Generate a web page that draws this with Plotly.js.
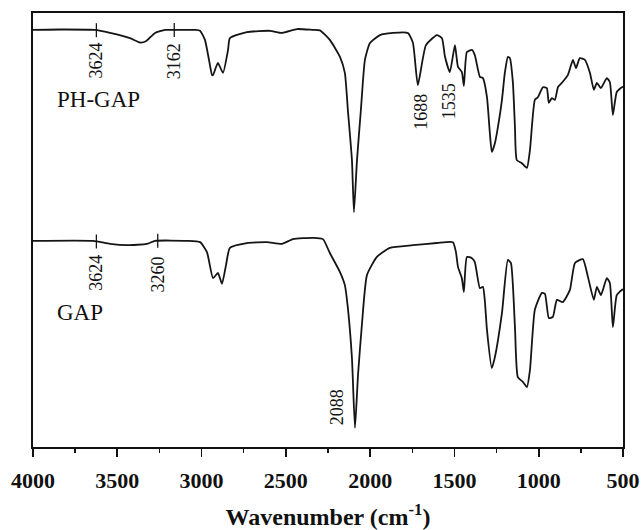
<!DOCTYPE html>
<html>
<head>
<meta charset="utf-8">
<script src="https://cdn.plot.ly/plotly-3.0.1.min.js"></script>
<style>html,body{margin:0;padding:0;background:#fff;}#chart{width:642px;height:530px;}</style>
</head>
<body>
<div id="chart"></div>
<script>
// Wavenumber (cm-1) and transmittance (a.u.)
const phWavenumber = [4000,3840,3632,3543,3425,3365,3330,3276,3217,3176,3039,3009,2980,2956,2938,2932,2903,2873,2843,2832,2731,2594,2523,2434,2339,2298,2239,2179,2150,2132,2108,2096,2078,2055,2031,2001,1942,1865,1776,1746,1717,1669,1604,1574,1556,1527,1497,1479,1456,1444,1426,1396,1379,1349,1331,1307,1290,1278,1260,1242,1218,1201,1183,1171,1153,1141,1130,1100,1070,1052,1023,1005,975,952,940,922,904,886,863,827,797,779,756,726,696,673,655,631,596,578,560,537,507,500];
const phTransmittance = [96.1,96.2,96.1,95.4,94.2,93.2,93.5,95.4,96.1,96.1,96.1,95.9,93.8,89.2,85.7,85.7,88.5,86.2,91.5,94.2,95.6,95.9,95.4,96.3,96.1,96.0,93.8,89.9,86.2,77.6,66.1,54.1,66.1,77.6,89.2,93.1,94.9,95.4,95.4,93.1,83.4,92.6,94.9,94.2,89.9,86.4,92.6,87.6,86.4,83.2,91.0,91.5,90.3,85.3,85.0,80.6,72.4,68.0,70.0,73.7,80.0,86.2,89.9,89.6,83.9,73.7,66.1,65.4,64.3,68.4,80.0,80.6,82.9,82.7,79.3,80.4,80.0,82.9,83.9,85.7,89.2,87.3,89.6,89.2,86.2,82.3,83.9,82.7,85.0,84.1,76.5,81.8,82.9,83.0];

const gapWavenumber = [4000,3644,3543,3442,3324,3276,3087,3009,2968,2932,2903,2879,2855,2832,2731,2612,2523,2458,2339,2280,2239,2179,2150,2132,2108,2090,2072,2049,2019,1960,1883,1746,1604,1509,1491,1479,1456,1444,1426,1396,1379,1349,1331,1319,1307,1278,1260,1218,1183,1165,1141,1124,1094,1070,1052,1023,981,963,940,916,892,857,815,785,738,708,673,655,631,596,578,560,537,507,500];
const gapTransmittance = [47.5,47.5,46.8,46.5,46.8,47.5,47.5,47.2,44.9,38.9,40.1,37.6,41.9,45.9,47.0,47.2,46.8,47.9,48.2,47.9,44.7,40.3,37.3,32.0,20.5,4.4,16.6,28.1,39.6,43.8,45.9,46.5,47.0,47.2,44.9,41.5,38.9,35.7,43.8,43.5,42.6,36.6,36.9,33.4,27.0,18.2,20.7,30.9,43.1,42.4,27.6,16.1,15.0,13.8,17.7,31.6,35.5,35.3,29.7,30.0,33.9,33.4,36.2,42.4,43.3,39.2,33.9,36.9,35.0,38.9,37.8,27.6,35.0,36.2,36.3];

const seriesNames = ["PH-GAP", "GAP"];
const phPeakLabels = [3624, 3162, 1688, 1535];
const phPeakTicked = [true, true, false, false];
const gapPeakLabels = [3624, 3260, 2088];
const gapPeakTicked = [true, true, false];
const xTickValues = [4000, 3500, 3000, 2500, 2000, 1500, 1000, 500];

function interp(xs, ys, x) {
  for (let i = 0; i < xs.length - 1; i++) {
    const a = xs[i], b = xs[i + 1];
    if ((x <= a && x >= b) || (x >= a && x <= b)) {
      const t = (x - a) / (b - a);
      return ys[i] + t * (ys[i + 1] - ys[i]);
    }
  }
  return ys[ys.length - 1];
}

const lineStyle = {color: '#151515', width: 1.8, shape: 'spline', smoothing: 0.5};
const traces = [
  {x: phWavenumber, y: phTransmittance, type: 'scatter', mode: 'lines', name: seriesNames[0], line: lineStyle, hoverinfo: 'x+y'},
  {x: gapWavenumber, y: gapTransmittance, type: 'scatter', mode: 'lines', name: seriesNames[1], line: lineStyle, hoverinfo: 'x+y'}
];

const labelFont = {family: 'Liberation Serif, Times New Roman, serif', size: 18, color: '#111'};
// pixel offsets of the rotated labels relative to the curve (styling only)
const phShift = [[0, -30], [0, -31], [-2, -51], [0, -34]];
const gapShift = [[0, -31], [0, -34], [-18, 15]];

const annotations = [];
const shapes = [];
function addPeaks(labels, ticked, shifts, xs, ys) {
  labels.forEach((wn, i) => {
    const yv = interp(xs, ys, wn);
    annotations.push({
      x: wn, y: yv, xref: 'x', yref: 'y', text: String(wn), showarrow: false,
      textangle: -90, font: labelFont, xanchor: 'center', yanchor: 'middle',
      xshift: shifts[i][0], yshift: shifts[i][1]
    });
    if (ticked[i]) {
      shapes.push({type: 'line', xref: 'x', yref: 'y', ysizemode: 'pixel', yanchor: yv,
        x0: wn, x1: wn, y0: -7, y1: 7, line: {color: '#151515', width: 1.3}});
    }
  });
}
addPeaks(phPeakLabels, phPeakTicked, phShift, phWavenumber, phTransmittance);
addPeaks(gapPeakLabels, gapPeakTicked, gapShift, gapWavenumber, gapTransmittance);

const nameFont = {family: 'Liberation Serif, Times New Roman, serif', size: 23, color: '#111'};
annotations.push({x: 3870, y: 80.0, xref: 'x', yref: 'y', text: seriesNames[0], showarrow: false, xanchor: 'left', yanchor: 'middle', font: nameFont});
annotations.push({x: 3870, y: 31.1, xref: 'x', yref: 'y', text: seriesNames[1], showarrow: false, xanchor: 'left', yanchor: 'middle', font: nameFont});

const layout = {
  width: 642, height: 530,
  margin: {l: 33, r: 19, t: 13, b: 83},
  paper_bgcolor: '#fff', plot_bgcolor: '#fff',
  showlegend: false,
  xaxis: {
    range: [4000, 500], tickvals: xTickValues, ticktext: xTickValues.map(String),
    ticks: 'outside', ticklen: 8, tickwidth: 1.8, tickcolor: '#111',
    ticklabelstandoff: 5,
    minor: {dtick: 250, ticks: 'outside', ticklen: 4, tickwidth: 1.5, tickcolor: '#111', tick0: 500},
    showline: true, linecolor: '#111', linewidth: 2, mirror: true,
    showgrid: false, zeroline: false,
    tickfont: {family: 'Liberation Serif, Times New Roman, serif', size: 22, color: '#111', weight: 'bold'},
    title: {text: '<b>Wavenumber (cm<sup>-1</sup>)</b>', font: {family: 'Liberation Serif, Times New Roman, serif', size: 24, color: '#111'}}
  },
  yaxis: {
    range: [0, 100], showticklabels: false, ticks: '', showgrid: false, zeroline: false,
    showline: true, linecolor: '#111', linewidth: 2, mirror: true
  },
  annotations: annotations,
  shapes: shapes
};

Plotly.newPlot('chart', traces, layout, {staticPlot: true, displayModeBar: false});
</script>
</body>
</html>
